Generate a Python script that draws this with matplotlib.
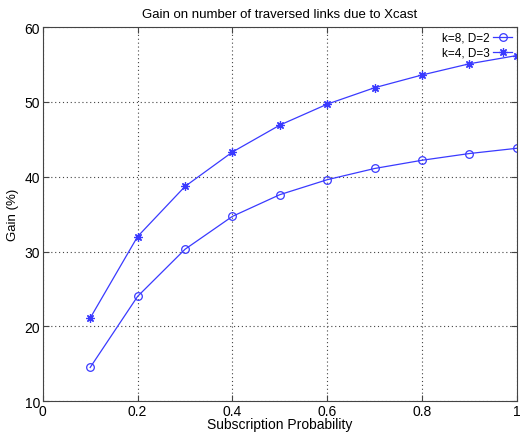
import numpy as np
import matplotlib.pyplot as plt

plt.rcParams['font.family'] = ['Liberation Sans', 'DejaVu Sans']

# Data
prob = [0.1, 0.2, 0.3, 0.4, 0.5, 0.6, 0.7, 0.8, 0.9, 1.0]
gain_k8_d2 = [14.5, 24.0, 30.3, 34.7, 37.6, 39.6, 41.1, 42.2, 43.1, 43.8]
gain_k4_d3 = [21.1, 32.0, 38.7, 43.3, 46.9, 49.7, 51.9, 53.6, 55.1, 56.2]

fig = plt.figure(figsize=(5.28, 4.39), dpi=100)
ax = fig.add_axes([0.081, 0.084, 0.898, 0.852])

blue = '#3a3aff'
ax.plot(prob, gain_k8_d2, color=blue, lw=0.9, marker='o', ms=5.5,
        mfc='none', mec=blue, mew=0.9, label='k=8, D=2')
ax.plot(prob, gain_k4_d3, color=blue, lw=0.9, marker=(8, 2, 0), ms=6,
        mfc='none', mec=blue, mew=0.9, label='k=4, D=3')

ax.set_xlim(0, 1)
ax.set_ylim(10, 60)
ax.set_xticks([0, 0.2, 0.4, 0.6, 0.8, 1.0])
ax.set_xticklabels(['0', '0.2', '0.4', '0.6', '0.8', '1'])
ax.set_yticks([10, 20, 30, 40, 50, 60])
ax.grid(True, color='#444444', linestyle=(0, (1, 2.5)), linewidth=0.8)
ax.tick_params(direction='in', length=4, labelsize=10, top=True, right=True, pad=2,
               color='#444444')
for s in ax.spines.values():
    s.set_linewidth(0.8)
    s.set_color('#444444')

ax.set_title('Gain on number of traversed links due to Xcast', fontsize=9.5, pad=7)
ax.set_xlabel('Subscription Probability', fontsize=10, labelpad=-1)
ax.set_ylabel('Gain (%)', fontsize=9.5, labelpad=4)

ax.legend(loc='upper right', frameon=False, markerfirst=False, fontsize=8.5,
          handlelength=1.6, borderaxespad=0.2, labelspacing=0.25, handletextpad=0.3,
          borderpad=0.2)

fig.savefig('out.png', dpi=100)
